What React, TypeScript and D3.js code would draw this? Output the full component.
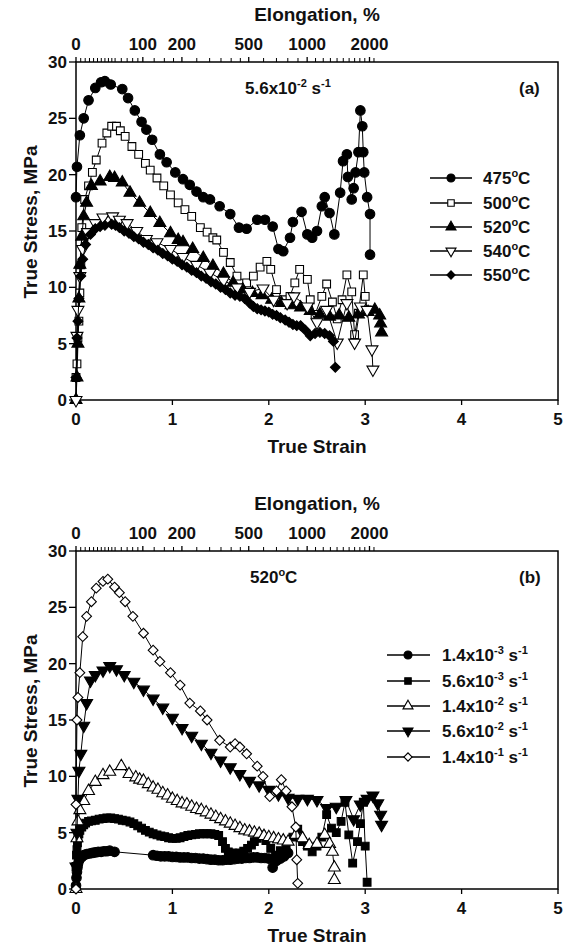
import React from "react";
import * as d3 from "d3";

type Pt = [number, number];

// ---------- axis values ----------
const strainTicks = [0, 1, 2, 3, 4, 5];
const stressTicks = [0, 5, 10, 15, 20, 25, 30];
const elongLabels = [0, 100, 200, 500, 1000, 2000];
const elongMinor = [5, 10, 15, 20, 25, 30, 35, 40, 45, 50, 60, 70, 80, 90, 125, 150, 175, 250, 300, 350, 400, 450,
  600, 700, 800, 900, 1100, 1200, 1300, 1400, 1500, 1600, 1700, 1800, 1900, 2100];

// ---------- panel (a): 5.6x10^-2 s^-1 ----------
const tempLabels = ["475", "500", "520", "540", "550"];

const a475: Pt[] = [[0.0, 18.0], [0.01, 20.7], [0.04, 23.5], [0.08, 25.0], [0.13, 26.6], [0.2, 27.7], [0.26, 28.2], [0.3, 28.3],
  [0.36, 28.0], [0.48, 27.6], [0.54, 26.8], [0.61, 25.7], [0.68, 24.7], [0.73, 24.0], [0.79, 23.1], [0.87, 21.8], [0.94, 21.1],
  [1.03, 20.2], [1.11, 19.6], [1.18, 19.1], [1.25, 18.5], [1.32, 18.0], [1.39, 17.8], [1.49, 17.2], [1.6, 16.5], [1.69, 15.3],
  [1.77, 15.2], [1.88, 16.0], [1.96, 16.0], [2.04, 15.4], [2.1, 13.4], [2.15, 13.2], [2.22, 14.4], [2.25, 15.8], [2.34, 16.7],
  [2.4, 14.7], [2.45, 14.4], [2.5, 15.0], [2.55, 17.2], [2.58, 18.0], [2.63, 16.6], [2.68, 14.7], [2.74, 18.4], [2.77, 21.2],
  [2.81, 21.8], [2.82, 19.8], [2.86, 17.8], [2.88, 18.8], [2.9, 20.2], [2.93, 22.0], [2.95, 25.7], [2.97, 24.3], [2.98, 22.0],
  [2.99, 20.2], [3.02, 18.0], [3.05, 16.5], [3.05, 12.9]];

const a500: Pt[] = [[0.0, 2.0], [0.01, 3.2], [0.02, 5.5], [0.03, 7.0], [0.04, 9.5], [0.05, 12.0], [0.06, 15.3], [0.09, 17.8],
  [0.13, 19.0], [0.17, 20.2], [0.21, 21.3], [0.27, 22.8], [0.32, 23.7], [0.37, 24.3], [0.42, 24.3], [0.46, 23.9], [0.51, 23.4],
  [0.58, 22.5], [0.65, 21.8], [0.72, 21.0], [0.77, 20.4], [0.84, 19.7], [0.91, 19.0], [0.98, 18.2], [1.06, 17.5], [1.13, 16.9],
  [1.2, 16.3], [1.29, 15.3], [1.36, 14.9], [1.42, 14.4], [1.46, 14.2], [1.53, 13.1], [1.6, 12.2], [1.67, 11.0], [1.77, 10.4],
  [1.84, 11.0], [1.91, 11.8], [1.98, 12.3], [2.02, 11.6], [2.08, 9.8], [2.15, 8.9], [2.22, 9.2], [2.27, 10.4], [2.32, 11.6],
  [2.4, 10.7], [2.43, 8.9], [2.48, 7.6], [2.55, 9.2], [2.6, 10.3], [2.66, 8.7], [2.71, 7.2], [2.76, 8.9], [2.81, 11.1],
  [2.86, 9.6], [2.89, 5.8], [2.93, 7.7], [2.98, 11.1], [3.0, 9.2], [3.02, 8.0]];

const a520: Pt[] = [[0.0, 0.0], [0.01, 2.0], [0.02, 5.0], [0.03, 9.0], [0.04, 12.0], [0.06, 14.5], [0.08, 16.3], [0.11, 17.5],
  [0.16, 19.0], [0.25, 19.4], [0.35, 19.8], [0.4, 19.7], [0.48, 19.3], [0.56, 18.4], [0.66, 17.5], [0.77, 16.6], [0.87, 15.7],
  [0.98, 14.8], [1.06, 14.2], [1.11, 14.0], [1.21, 13.4], [1.32, 12.6], [1.42, 11.9], [1.53, 11.2], [1.63, 10.4], [1.73, 9.8],
  [1.83, 9.5], [1.93, 9.3], [2.03, 8.9], [2.13, 8.6], [2.23, 8.4], [2.33, 8.2], [2.43, 7.9], [2.53, 7.6], [2.63, 7.4],
  [2.73, 7.5], [2.83, 7.3], [2.93, 7.6], [3.03, 7.8], [3.1, 8.0], [3.15, 7.5], [3.16, 6.8], [3.17, 6.0]];

const a540: Pt[] = [[0.0, 0.0], [0.01, 5.7], [0.02, 8.0], [0.04, 11.0], [0.07, 13.4], [0.12, 14.9], [0.2, 15.7], [0.28, 16.2],
  [0.38, 16.3], [0.45, 16.0], [0.53, 15.7], [0.63, 15.0], [0.73, 14.3], [0.84, 14.0], [0.98, 13.4], [1.11, 12.7], [1.25, 12.0],
  [1.39, 11.3], [1.53, 10.6], [1.67, 10.0], [1.8, 9.6], [1.94, 9.9], [2.05, 8.9], [2.19, 8.6], [2.26, 9.2], [2.4, 8.3],
  [2.5, 6.9], [2.6, 8.0], [2.71, 5.1], [2.81, 8.6], [2.89, 5.1], [2.95, 8.3], [3.02, 8.0], [3.07, 4.5], [3.08, 2.7]];

const a550: Pt[] = [[0.0, 2.0], [0.01, 5.5], [0.02, 7.0], [0.03, 9.0], [0.05, 11.0], [0.07, 12.5], [0.1, 13.8], [0.15, 14.7],
  [0.2, 15.2], [0.25, 15.4], [0.3, 15.5], [0.37, 15.6], [0.41, 15.5], [0.45, 15.3], [0.5, 15.0], [0.55, 14.8], [0.6, 14.5],
  [0.65, 14.3], [0.7, 14.0], [0.75, 13.8], [0.8, 13.5], [0.85, 13.3], [0.9, 13.0], [0.95, 12.8], [1.0, 12.5], [1.05, 12.3],
  [1.1, 12.0], [1.15, 11.8], [1.2, 11.5], [1.25, 11.3], [1.3, 11.0], [1.35, 10.8], [1.4, 10.5], [1.45, 10.3], [1.5, 10.0],
  [1.55, 9.8], [1.6, 9.5], [1.65, 9.3], [1.7, 9.2], [1.75, 9.0], [1.8, 8.6], [1.84, 8.3], [1.88, 8.1], [1.92, 8.0],
  [1.96, 7.9], [2.0, 7.8], [2.04, 7.6], [2.08, 7.5], [2.12, 7.3], [2.17, 7.1], [2.21, 6.9], [2.25, 6.7], [2.29, 6.6],
  [2.33, 6.6], [2.38, 6.2], [2.43, 5.7], [2.48, 5.9], [2.53, 6.0], [2.58, 5.9], [2.63, 5.7], [2.67, 5.2], [2.69, 2.9]];

// ---------- panel (b): 520 oC ----------
const rateMant = ["1.4", "5.6", "1.4", "5.6", "1.4"];
const rateExp = ["-3", "-3", "-2", "-2", "-1"];

const b1: Pt[] = [[0.0, 0.3], [0.005, 1.0], [0.01, 1.5], [0.015, 1.9], [0.02, 2.2], [0.03, 2.5], [0.04, 2.7], [0.06, 2.85],
  [0.08, 3.0], [0.11, 3.1], [0.14, 3.15], [0.17, 3.2], [0.2, 3.25], [0.23, 3.3], [0.26, 3.3], [0.29, 3.35], [0.32, 3.35],
  [0.35, 3.4], [0.4, 3.3], [0.8, 3.0], [0.84, 2.95], [0.88, 2.9], [0.92, 2.9], [0.96, 2.9], [1.0, 2.85], [1.04, 2.85],
  [1.08, 2.8], [1.12, 2.8], [1.16, 2.8], [1.2, 2.75], [1.24, 2.75], [1.28, 2.7], [1.32, 2.7], [1.36, 2.65], [1.4, 2.6],
  [1.44, 2.6], [1.48, 2.55], [1.52, 2.55], [1.56, 2.6], [1.6, 2.6], [1.64, 2.65], [1.68, 2.7], [1.72, 2.7], [1.76, 2.75],
  [1.8, 2.75], [1.84, 2.8], [1.88, 2.8], [1.92, 2.75], [1.96, 2.75], [2.0, 2.7], [2.04, 1.9], [2.08, 2.5], [2.12, 2.7],
  [2.16, 2.9], [2.2, 3.2]];

const b2: Pt[] = [[0.0, 2.0], [0.005, 3.0], [0.01, 3.5], [0.015, 4.1], [0.02, 4.5], [0.03, 4.9], [0.04, 5.2], [0.06, 5.5],
  [0.08, 5.7], [0.1, 5.85], [0.13, 6.0], [0.16, 6.05], [0.2, 6.1], [0.24, 6.2], [0.28, 6.25], [0.32, 6.3], [0.36, 6.3],
  [0.4, 6.25], [0.44, 6.2], [0.48, 6.1], [0.52, 6.05], [0.56, 5.95], [0.6, 5.8], [0.64, 5.6], [0.68, 5.4], [0.72, 5.2],
  [0.76, 5.05], [0.8, 4.9], [0.84, 4.8], [0.88, 4.7], [0.92, 4.65], [0.96, 4.55], [1.0, 4.5], [1.04, 4.5], [1.08, 4.55],
  [1.12, 4.65], [1.16, 4.75], [1.2, 4.8], [1.24, 4.85], [1.28, 4.9], [1.32, 4.9], [1.36, 4.9], [1.4, 4.9], [1.44, 4.85],
  [1.48, 4.75], [1.52, 4.2], [1.55, 3.6], [1.58, 3.3], [1.62, 3.2], [1.66, 3.15], [1.7, 3.2], [1.74, 3.35], [1.78, 3.6],
  [1.82, 3.9], [1.85, 4.2], [1.88, 4.5], [1.92, 4.8], [1.97, 4.3], [2.02, 3.6], [2.07, 3.0], [2.12, 3.4], [2.18, 3.6],
  [2.25, 4.6], [2.3, 5.3], [2.35, 4.2], [2.4, 3.8], [2.45, 3.3], [2.5, 3.8], [2.55, 4.6], [2.6, 6.6], [2.65, 5.4],
  [2.7, 5.0], [2.75, 6.0], [2.79, 7.7], [2.83, 4.8], [2.87, 2.3], [2.92, 4.2], [2.95, 5.8], [2.98, 7.7], [3.0, 3.8],
  [3.02, 0.6]];

const b3: Pt[] = [[0.0, 0.0], [0.01, 4.5], [0.02, 6.0], [0.04, 7.0], [0.08, 7.8], [0.13, 8.7], [0.2, 9.5], [0.28, 10.1],
  [0.35, 10.4], [0.47, 10.9], [0.55, 10.2], [0.62, 9.9], [0.66, 9.7], [0.7, 9.6], [0.75, 9.3], [0.8, 9.0], [0.85, 8.8],
  [0.9, 8.5], [0.95, 8.3], [1.0, 8.0], [1.05, 7.8], [1.1, 7.6], [1.15, 7.5], [1.2, 7.3], [1.25, 7.1], [1.3, 7.0],
  [1.35, 6.8], [1.4, 6.6], [1.45, 6.4], [1.5, 6.2], [1.55, 6.0], [1.6, 5.8], [1.65, 5.6], [1.7, 5.4], [1.75, 5.2],
  [1.8, 5.1], [1.85, 5.0], [1.9, 4.9], [1.95, 4.7], [2.0, 4.6], [2.05, 4.5], [2.1, 4.4], [2.15, 4.3], [2.2, 4.2],
  [2.28, 4.8], [2.35, 4.5], [2.42, 3.9], [2.5, 4.0], [2.58, 4.8], [2.63, 4.0], [2.66, 3.3], [2.68, 1.9], [2.68, 0.8]];

const b4: Pt[] = [[0.0, 2.0], [0.01, 5.0], [0.02, 8.0], [0.03, 10.5], [0.05, 12.0], [0.08, 14.5], [0.11, 16.5], [0.15, 18.5],
  [0.2, 19.0], [0.28, 19.4], [0.35, 19.8], [0.42, 19.5], [0.5, 19.0], [0.6, 18.4], [0.7, 17.7], [0.8, 16.9], [0.9, 16.1],
  [1.0, 15.2], [1.1, 14.3], [1.2, 13.6], [1.3, 12.9], [1.4, 12.1], [1.5, 11.4], [1.6, 10.8], [1.7, 10.2], [1.8, 9.6],
  [1.9, 9.2], [2.0, 8.8], [2.1, 8.4], [2.2, 8.1], [2.3, 8.0], [2.4, 8.0], [2.5, 7.9], [2.6, 7.2], [2.7, 7.3], [2.8, 7.9],
  [2.88, 6.2], [2.95, 7.5], [3.02, 8.0], [3.08, 8.3], [3.13, 7.6], [3.16, 6.6], [3.17, 5.7]];

const b5: Pt[] = [[0.0, 0.0], [0.0, 7.5], [0.01, 15.0], [0.02, 17.0], [0.04, 19.2], [0.07, 22.4], [0.11, 24.2], [0.16, 25.5],
  [0.21, 26.7], [0.28, 27.3], [0.33, 27.5], [0.4, 26.8], [0.45, 26.3], [0.51, 25.5], [0.59, 24.2], [0.7, 22.7], [0.8, 21.2],
  [0.87, 20.2], [0.98, 19.2], [1.08, 18.1], [1.18, 16.5], [1.29, 15.8], [1.36, 15.0], [1.49, 13.2], [1.6, 12.6], [1.65, 12.9],
  [1.7, 12.6], [1.77, 12.0], [1.88, 10.9], [1.94, 10.0], [2.01, 8.2], [2.08, 8.7], [2.13, 9.7], [2.18, 8.7], [2.24, 7.3],
  [2.28, 5.5], [2.29, 2.6], [2.3, 0.5]];

// ---------- styling ----------
const FONT = "'Liberation Sans', Arial, Helvetica, sans-serif";
type Shape = "circle" | "square" | "triangle" | "triangleDown" | "diamond";

interface Series { data: Pt[]; shape: Shape; filled: boolean; }

const seriesA: Series[] = [
  { data: a475, shape: "circle", filled: true },
  { data: a500, shape: "square", filled: false },
  { data: a520, shape: "triangle", filled: true },
  { data: a540, shape: "triangleDown", filled: false },
  { data: a550, shape: "diamond", filled: true },
];
const seriesB: Series[] = [
  { data: b1, shape: "circle", filled: true },
  { data: b2, shape: "square", filled: true },
  { data: b3, shape: "triangle", filled: false },
  { data: b4, shape: "triangleDown", filled: true },
  { data: b5, shape: "diamond", filled: false },
];

const X = d3.scaleLinear().domain([0, 5]).range([76, 558]);
const elongToX = (e: number) => X(Math.log1p(e / 100));

function markerPath(shape: Shape, scale: number) {
  const map: Record<Shape, [d3.SymbolType, number]> = {
    circle: [d3.symbolCircle, 72],
    square: [d3.symbolSquare, 60],
    triangle: [d3.symbolTriangle, 62],
    triangleDown: [d3.symbolTriangle, 62],
    diamond: [d3.symbolSquare, 48],
  };
  const [t, s] = map[shape];
  return d3.symbol(t, s * scale)() as string;
}
function markerRot(shape: Shape) {
  if (shape === "triangleDown") return " rotate(180)";
  if (shape === "diamond") return " rotate(45)";
  return "";
}

function Marker({ x, y, shape, filled, scale = 1 }: { x: number; y: number; shape: Shape; filled: boolean; scale?: number }) {
  return (
    <path d={markerPath(shape, scale)} transform={`translate(${x},${y})${markerRot(shape)}`}
      fill={filled ? "#000" : "#fff"} stroke="#000" strokeWidth={1.1} />
  );
}

function Panel({ top, bottom, series, legendRows, legendX, legendTexts, annotation, tag }: {
  top: number; bottom: number; series: Series[]; legendRows: number[];
  legendX: [number, number, number, number]; legendTexts: React.ReactNode[]; annotation: React.ReactNode; tag: string;
}) {
  const Y = d3.scaleLinear().domain([0, 30]).range([bottom, top]);
  const line = d3.line<Pt>().x(d => X(d[0])).y(d => Y(d[1]));
  const [x0, x1] = X.range();
  const tf = { fontFamily: FONT, fontWeight: 700, fill: "#111" } as const;
  return (
    <g>
      <rect x={x0} y={top} width={x1 - x0} height={bottom - top} fill="none" stroke="#000" strokeWidth={1.5} />
      {strainTicks.map(t => (
        <g key={"bx" + t}>
          <line x1={X(t)} x2={X(t)} y1={bottom} y2={bottom + 5} stroke="#000" strokeWidth={1.3} />
          <text x={X(t)} y={bottom + 25} textAnchor="middle" fontSize={17} {...tf}>{t}</text>
        </g>
      ))}
      <text x={(x0 + x1) / 2} y={bottom + 53} textAnchor="middle" fontSize={19} {...tf}>True Strain</text>
      {stressTicks.map(t => (
        <g key={"ly" + t}>
          <line x1={x0 - 7} x2={x0} y1={Y(t)} y2={Y(t)} stroke="#000" strokeWidth={1.3} />
          <text x={x0 - 9} y={Y(t) + 6} textAnchor="end" fontSize={17} {...tf}>{t}</text>
        </g>
      ))}
      <text transform={`translate(37,${(top + bottom) / 2 - 9}) rotate(-90)`} textAnchor="middle" fontSize={19} {...tf}>
        True Stress, MPa
      </text>
      {elongMinor.map(e => (
        <line key={"tm" + e} x1={elongToX(e)} x2={elongToX(e)} y1={top} y2={top - 4} stroke="#000" strokeWidth={1} />
      ))}
      {elongLabels.map(e => (
        <g key={"tl" + e}>
          <line x1={elongToX(e)} x2={elongToX(e)} y1={top} y2={top - 5} stroke="#000" strokeWidth={1.3} />
          <text x={elongToX(e)} y={top - 12} textAnchor="middle" fontSize={17} {...tf}>{e}</text>
        </g>
      ))}
      <text x={(x0 + x1) / 2} y={top - 41} textAnchor="middle" fontSize={19} {...tf}>Elongation, %</text>
      {series.map((s, i) => (
        <g key={"s" + i}>
          <path d={line(s.data) as string} fill="none" stroke="#000" strokeWidth={1} />
          {s.data.map((d, j) => (
            <Marker key={j} x={X(d[0])} y={Y(d[1])} shape={s.shape} filled={s.filled} />
          ))}
        </g>
      ))}
      {annotation}
      <text x={519} y={top + 32} fontSize={17} {...tf}>{tag}</text>
      {series.map((s, i) => (
        <g key={"lg" + i}>
          <line x1={legendX[0]} x2={legendX[1]} y1={legendRows[i]} y2={legendRows[i]} stroke="#000" strokeWidth={1.3} />
          <Marker x={legendX[2]} y={legendRows[i]} shape={s.shape} filled={s.filled} scale={0.7} />
          <text x={legendX[3]} y={legendRows[i] + 6} fontSize={17} style={{ whiteSpace: "pre" }} {...tf}>
            {legendTexts[i]}
          </text>
        </g>
      ))}
    </g>
  );
}

export default function App() {
  const tf = { fontFamily: FONT, fontWeight: 700, fill: "#111" } as const;
  const tempTexts = tempLabels.map(t => (
    <>{t}<tspan dy={-7} fontSize={11}>o</tspan><tspan dy={7}>C</tspan></>
  ));
  const rateTexts = rateMant.map((m, i) => (
    <>{m}x10<tspan dy={-7} fontSize={11}>{rateExp[i]}</tspan><tspan dy={7}> s</tspan><tspan dy={-7} fontSize={11}>-1</tspan></>
  ));
  return (
    <div style={{ position: "absolute", left: 0, top: 0 }}>
      <svg width={573} height={947} style={{ display: "block", background: "#fff" }}>
        <Panel top={62} bottom={400} series={seriesA} legendRows={[178, 203, 227, 251, 275]}
          legendX={[430, 472, 451, 483]} legendTexts={tempTexts} tag="(a)"
          annotation={
            <text x={245} y={94} fontSize={17} style={{ whiteSpace: "pre" }} {...tf}>
              5.6x10<tspan dy={-7} fontSize={11}>-2</tspan><tspan dy={7}> s</tspan><tspan dy={-7} fontSize={11}>-1</tspan>
            </text>
          } />
        <Panel top={551} bottom={889} series={seriesB} legendRows={[655, 681, 706, 731, 757]}
          legendX={[387, 430, 408, 442]} legendTexts={rateTexts} tag="(b)"
          annotation={
            <text x={250} y={583} fontSize={17} {...tf}>
              520<tspan dy={-7} fontSize={11}>o</tspan><tspan dy={7}>C</tspan>
            </text>
          } />
      </svg>
    </div>
  );
}
